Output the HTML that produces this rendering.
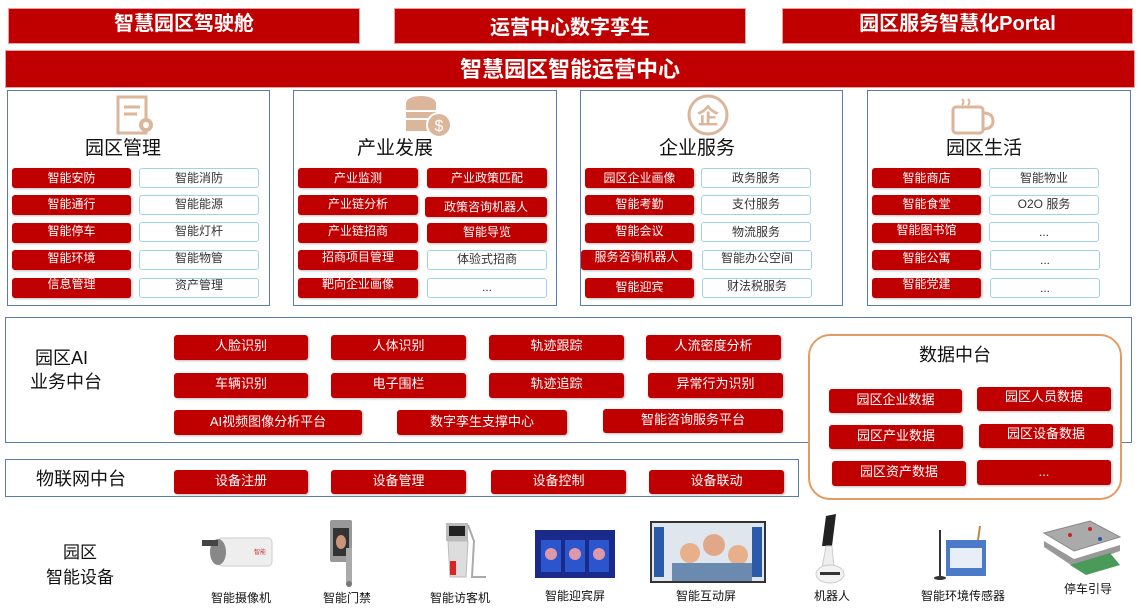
<!DOCTYPE html>
<html><head><meta charset="utf-8"><style>
*{margin:0;padding:0;box-sizing:border-box}
body{width:1141px;height:616px;position:relative;background:#fff;font-family:"Liberation Sans","Noto Sans CJK SC",sans-serif;overflow:hidden}
.a{position:absolute}
.bar{position:absolute;background:#C00000;color:#fff;font-weight:bold;text-align:center;border:1px solid #e8a0a0}
.r{position:absolute;background:#C00000;color:#fff;font-size:12px;text-align:center;border-radius:3px;box-shadow:1px 1px 2px #bbb;white-space:nowrap}
.w{position:absolute;background:#fff;color:#333;font-size:12px;text-align:center;border:1.5px solid #9fd3e6;border-radius:3px;white-space:nowrap}
.panel{position:absolute;border:1px solid #5b7bb0;background:#fff}
.pt{position:absolute;font-size:19px;color:#111;text-align:center;width:100%}
.lbl{position:absolute;font-size:12px;color:#111;text-align:center;white-space:nowrap}
</style></head><body>
<div class="bar" style="left:8px;top:8px;width:352px;height:36px;font-size:20px;line-height:30px">智慧园区驾驶舱</div>
<div class="bar" style="left:394px;top:8px;width:352px;height:36px;font-size:20px;line-height:38px">运营中心数字孪生</div>
<div class="bar" style="left:782px;top:8px;width:351px;height:36px;font-size:20px;line-height:30px">园区服务智慧化Portal</div>
<div class="bar" style="left:5px;top:50px;width:1130px;height:38px;font-size:22px;line-height:38px">智慧园区智能运营中心</div>

<!-- panel 1 -->
<div class="panel" style="left:7px;top:90px;width:263px;height:216px"></div>
<svg class="a" style="left:115px;top:95px" width="44" height="42"><rect x="3" y="2" width="28" height="36" fill="none" stroke="#dcb69b" stroke-width="3"/><line x1="9" y1="12" x2="25" y2="12" stroke="#dcb69b" stroke-width="3"/><line x1="9" y1="19" x2="22" y2="19" stroke="#dcb69b" stroke-width="3"/><circle cx="31" cy="30" r="7" fill="#dcb69b"/><circle cx="31" cy="30" r="3" fill="#fff"/></svg>
<div class="pt" style="left:7px;width:232px;top:133px">园区管理</div>
<!-- panel 2 -->
<div class="panel" style="left:293px;top:90px;width:264px;height:216px"></div>
<svg class="a" style="left:401px;top:93px" width="52" height="46"><ellipse cx="20" cy="10" rx="15" ry="7" fill="#dcb69b"/><rect x="5" y="10" width="30" height="28" fill="#dcb69b"/><line x1="5" y1="18" x2="35" y2="18" stroke="#fff" stroke-width="2"/><line x1="5" y1="26" x2="35" y2="26" stroke="#fff" stroke-width="2"/><circle cx="38" cy="32" r="12" fill="#dcb69b" stroke="#fff" stroke-width="2"/><text x="38" y="38" font-size="16" fill="#fff" text-anchor="middle" font-family="Liberation Sans">$</text></svg>
<div class="pt" style="left:293px;width:204px;top:133px">产业发展</div>
<!-- panel 3 -->
<div class="panel" style="left:580px;top:90px;width:263px;height:216px"></div>
<svg class="a" style="left:686px;top:94px" width="44" height="42"><circle cx="22" cy="21" r="19" fill="none" stroke="#dcb69b" stroke-width="3"/><text x="22" y="30" font-size="22" fill="#dcb69b" text-anchor="middle" font-weight="bold" font-family="Noto Sans CJK SC">企</text></svg>
<div class="pt" style="left:580px;width:234px;top:133px">企业服务</div>
<!-- panel 4 -->
<div class="panel" style="left:867px;top:90px;width:264px;height:216px"></div>
<svg class="a" style="left:944px;top:97px" width="52" height="40"><rect x="9" y="10" width="30" height="26" rx="3" fill="none" stroke="#dcb69b" stroke-width="3"/><path d="M39 16 q10 0 10 8 q0 8 -10 8" fill="none" stroke="#dcb69b" stroke-width="3"/><path d="M18 2 q3 3 0 6 M24 2 q3 3 0 6" stroke="#dcb69b" stroke-width="2" fill="none"/></svg>
<div class="pt" style="left:867px;width:234px;top:133px">园区生活</div>

<!-- panel rows -->
<div class="r" style="left:12px;top:168px;width:119px;height:20px;line-height:20px">智能安防</div>
<div class="w" style="left:139px;top:168px;width:120px;height:20px;line-height:18px">智能消防</div>
<div class="r" style="left:12px;top:195px;width:119px;height:20px;line-height:18px">智能通行</div>
<div class="w" style="left:139px;top:195px;width:120px;height:20px;line-height:16px">智能能源</div>
<div class="r" style="left:12px;top:223px;width:119px;height:20px;line-height:16px">智能停车</div>
<div class="w" style="left:139px;top:222px;width:120px;height:20px;line-height:16px">智能灯杆</div>
<div class="r" style="left:12px;top:250px;width:119px;height:20px;line-height:16px">智能环境</div>
<div class="w" style="left:139px;top:250px;width:120px;height:20px;line-height:14px">智能物管</div>
<div class="r" style="left:12px;top:278px;width:119px;height:20px;line-height:12px">信息管理</div>
<div class="w" style="left:139px;top:278px;width:120px;height:20px;line-height:12px">资产管理</div>

<div class="r" style="left:298px;top:168px;width:120px;height:20px;line-height:20px">产业监测</div>
<div class="r" style="left:427px;top:168px;width:120px;height:20px;line-height:20px">产业政策匹配</div>
<div class="r" style="left:298px;top:195px;width:120px;height:20px;line-height:18px">产业链分析</div>
<div class="r" style="left:425px;top:197px;width:122px;height:20px;line-height:20px">政策咨询机器人</div>
<div class="r" style="left:298px;top:223px;width:120px;height:20px;line-height:16px">产业链招商</div>
<div class="r" style="left:427px;top:223px;width:120px;height:20px;line-height:18px">智能导览</div>
<div class="r" style="left:298px;top:250px;width:120px;height:20px;line-height:14px">招商项目管理</div>
<div class="w" style="left:427px;top:250px;width:120px;height:20px;line-height:16px">体验式招商</div>
<div class="r" style="left:298px;top:278px;width:120px;height:20px;line-height:12px">靶向企业画像</div>
<div class="w" style="left:427px;top:278px;width:120px;height:20px;line-height:16px">...</div>

<div class="r" style="left:585px;top:168px;width:109px;height:20px;line-height:20px">园区企业画像</div>
<div class="w" style="left:701px;top:168px;width:110px;height:20px;line-height:18px">政务服务</div>
<div class="r" style="left:585px;top:195px;width:109px;height:20px;line-height:18px">智能考勤</div>
<div class="w" style="left:701px;top:195px;width:110px;height:20px;line-height:16px">支付服务</div>
<div class="r" style="left:585px;top:223px;width:109px;height:20px;line-height:16px">智能会议</div>
<div class="w" style="left:701px;top:222px;width:110px;height:20px;line-height:18px">物流服务</div>
<div class="r" style="left:581px;top:250px;width:111px;height:20px;line-height:14px">服务咨询机器人</div>
<div class="w" style="left:702px;top:250px;width:110px;height:20px;line-height:14px">智能办公空间</div>
<div class="r" style="left:585px;top:278px;width:109px;height:20px;line-height:18px">智能迎宾</div>
<div class="w" style="left:702px;top:278px;width:110px;height:20px;line-height:14px">财法税服务</div>

<div class="r" style="left:872px;top:168px;width:109px;height:20px;line-height:20px">智能商店</div>
<div class="w" style="left:989px;top:168px;width:110px;height:20px;line-height:18px">智能物业</div>
<div class="r" style="left:872px;top:195px;width:109px;height:20px;line-height:18px">智能食堂</div>
<div class="w" style="left:989px;top:195px;width:110px;height:20px;line-height:16px">O2O 服务</div>
<div class="r" style="left:872px;top:223px;width:109px;height:20px;line-height:14px">智能图书馆</div>
<div class="w" style="left:989px;top:222px;width:110px;height:20px;line-height:18px">...</div>
<div class="r" style="left:872px;top:250px;width:109px;height:20px;line-height:16px">智能公寓</div>
<div class="w" style="left:990px;top:250px;width:110px;height:20px;line-height:18px">...</div>
<div class="r" style="left:872px;top:278px;width:109px;height:20px;line-height:12px">智能党建</div>
<div class="w" style="left:990px;top:278px;width:110px;height:20px;line-height:18px">...</div>

<!-- AI -->
<div class="panel" style="left:5px;top:317px;width:1127px;height:126px"></div>
<div class="a" style="left:30px;top:346px;font-size:18px;line-height:24px;color:#111">&nbsp;园区AI<br>业务中台</div>
<div class="r" style="left:174px;top:335px;width:134px;height:25px;line-height:22px;font-size:13px">人脸识别</div>
<div class="r" style="left:331px;top:335px;width:135px;height:25px;line-height:22px;font-size:13px">人体识别</div>
<div class="r" style="left:489px;top:335px;width:135px;height:25px;line-height:22px;font-size:13px">轨迹跟踪</div>
<div class="r" style="left:646px;top:335px;width:135px;height:25px;line-height:22px;font-size:13px">人流密度分析</div>
<div class="r" style="left:174px;top:373px;width:134px;height:25px;line-height:22px;font-size:13px">车辆识别</div>
<div class="r" style="left:331px;top:373px;width:135px;height:25px;line-height:22px;font-size:13px">电子围栏</div>
<div class="r" style="left:489px;top:373px;width:135px;height:25px;line-height:22px;font-size:13px">轨迹追踪</div>
<div class="r" style="left:648px;top:373px;width:135px;height:25px;line-height:22px;font-size:13px">异常行为识别</div>
<div class="r" style="left:174px;top:410px;width:188px;height:25px;line-height:24px;font-size:13px">AI视频图像分析平台</div>
<div class="r" style="left:397px;top:410px;width:170px;height:25px;line-height:24px;font-size:13px">数字孪生支撑中心</div>
<div class="r" style="left:603px;top:409px;width:180px;height:24px;line-height:22px;font-size:13px">智能咨询服务平台</div>

<!-- data center -->
<div class="a" style="left:808px;top:334px;width:314px;height:166px;border:2px solid #e39b62;border-radius:22px;background:#fff"></div>
<div class="a" style="left:808px;top:341px;width:294px;text-align:center;font-size:18px;color:#111">数据中台</div>
<div class="r" style="left:829px;top:389px;width:133px;height:24px;line-height:22px;font-size:13px">园区企业数据</div>
<div class="r" style="left:977px;top:387px;width:134px;height:24px;line-height:20px;font-size:13px">园区人员数据</div>
<div class="r" style="left:829px;top:425px;width:134px;height:24px;line-height:22px;font-size:13px">园区产业数据</div>
<div class="r" style="left:979px;top:424px;width:134px;height:24px;line-height:20px;font-size:13px">园区设备数据</div>
<div class="r" style="left:832px;top:461px;width:134px;height:25px;line-height:22px;font-size:13px">园区资产数据</div>
<div class="r" style="left:977px;top:460px;width:134px;height:25px;line-height:24px;font-size:13px">...</div>

<!-- IoT -->
<div class="panel" style="left:5px;top:459px;width:794px;height:38px"></div>
<div class="a" style="left:36px;top:465px;font-size:18px;color:#111">物联网中台</div>
<div class="r" style="left:174px;top:470px;width:134px;height:24px;line-height:22px;font-size:13px">设备注册</div>
<div class="r" style="left:331px;top:470px;width:135px;height:24px;line-height:22px;font-size:13px">设备管理</div>
<div class="r" style="left:491px;top:470px;width:135px;height:24px;line-height:22px;font-size:13px">设备控制</div>
<div class="r" style="left:649px;top:470px;width:135px;height:24px;line-height:22px;font-size:13px">设备联动</div>

<!-- devices -->
<div class="a" style="left:46px;top:540px;font-size:17px;line-height:25px;color:#111;text-align:center">园区<br>智能设备</div>
<svg class="a" style="left:200px;top:534px" width="76" height="40"><rect x="18" y="4" width="54" height="28" rx="4" fill="#eee" stroke="#ccc"/><ellipse cx="18" cy="18" rx="8" ry="13" fill="#888"/><rect x="2" y="6" width="16" height="6" fill="#444"/><text x="54" y="20" font-size="6" fill="#c33">智能</text></svg>
<svg class="a" style="left:328px;top:518px" width="32" height="70"><rect x="2" y="2" width="22" height="42" rx="2" fill="#999"/><rect x="5" y="10" width="16" height="28" fill="#333"/><ellipse cx="13" cy="24" rx="5" ry="7" fill="#c9967a"/><rect x="18" y="30" width="6" height="36" fill="#aaa"/><circle cx="21" cy="66" r="3" fill="#777"/></svg>
<svg class="a" style="left:442px;top:521px" width="48" height="60"><rect x="4" y="2" width="22" height="18" fill="#bbb"/><rect x="7" y="5" width="16" height="10" fill="#222"/><path d="M6 20 L26 20 L24 56 L8 56Z" fill="#ddd" stroke="#bbb"/><rect x="8" y="40" width="6" height="14" fill="#d22"/><path d="M26 4 L32 20 L30 56 L44 56" fill="none" stroke="#aaa" stroke-width="2"/></svg>
<svg class="a" style="left:535px;top:530px" width="82" height="50"><rect width="80" height="48" fill="#1a2a8a"/><rect x="6" y="10" width="20" height="32" fill="#2a55cc"/><rect x="30" y="10" width="20" height="32" fill="#2a55cc"/><rect x="54" y="10" width="20" height="32" fill="#2a55cc"/><circle cx="16" cy="24" r="6" fill="#d9a"/><circle cx="40" cy="24" r="6" fill="#d9a"/><circle cx="64" cy="24" r="6" fill="#d9a"/></svg>
<svg class="a" style="left:650px;top:521px" width="116" height="62"><rect width="116" height="62" fill="#333"/><rect x="2" y="2" width="112" height="58" fill="#dfe6ee"/><rect x="4" y="6" width="10" height="50" fill="#2a5aa8"/><rect x="102" y="6" width="10" height="50" fill="#2a5aa8"/><circle cx="40" cy="32" r="10" fill="#e8b08a"/><circle cx="64" cy="24" r="11" fill="#e0a888"/><circle cx="88" cy="34" r="10" fill="#e8b08a"/><rect x="22" y="42" width="80" height="18" fill="#6a8ab0"/></svg>
<svg class="a" style="left:812px;top:512px" width="40" height="72"><path d="M14 4 L24 2 L20 34 L10 34Z" fill="#222"/><path d="M14 34 L20 34 L22 56 L10 56Z" fill="#eee" stroke="#ccc"/><ellipse cx="18" cy="62" rx="14" ry="9" fill="#f2f2f2" stroke="#ccc"/><rect x="8" y="60" width="20" height="3" fill="#333"/></svg>
<svg class="a" style="left:932px;top:524px" width="60" height="58"><line x1="8" y1="6" x2="8" y2="52" stroke="#333" stroke-width="2"/><ellipse cx="8" cy="54" rx="6" ry="2" fill="#333"/><rect x="14" y="16" width="40" height="36" fill="#4a7ac8"/><rect x="18" y="24" width="32" height="20" fill="#e8eef8"/><line x1="46" y1="16" x2="48" y2="2" stroke="#b84" stroke-width="2"/></svg>
<svg class="a" style="left:1040px;top:519px" width="84" height="58"><path d="M4 14 L50 2 L80 18 L34 32Z" fill="#aaa" stroke="#888"/><path d="M4 22 L34 40 L80 26 L80 32 L34 48 L4 28Z" fill="#999"/><path d="M30 46 L70 34 L80 46 L46 56Z" fill="#4a9a5a"/><circle cx="30" cy="16" r="2" fill="#c22"/><circle cx="50" cy="10" r="2" fill="#c22"/><circle cx="60" cy="20" r="2" fill="#25a"/></svg>
<div class="lbl" style="left:201px;top:589px;width:80px">智能摄像机</div>
<div class="lbl" style="left:307px;top:589px;width:80px">智能门禁</div>
<div class="lbl" style="left:420px;top:589px;width:80px">智能访客机</div>
<div class="lbl" style="left:535px;top:587px;width:80px">智能迎宾屏</div>
<div class="lbl" style="left:666px;top:587px;width:80px">智能互动屏</div>
<div class="lbl" style="left:792px;top:587px;width:80px">机器人</div>
<div class="lbl" style="left:918px;top:587px;width:90px">智能环境传感器</div>
<div class="lbl" style="left:1048px;top:580px;width:80px">停车引导</div>
</body></html>
